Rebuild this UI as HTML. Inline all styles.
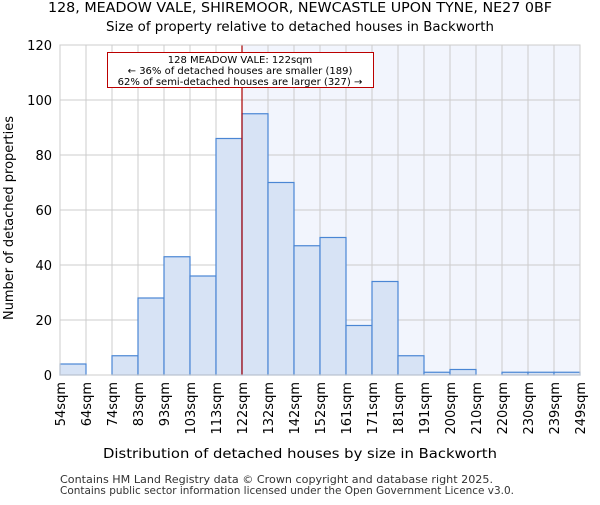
<!DOCTYPE html>
<html><head><meta charset="utf-8"><style>
body{margin:0;background:#fff;}
svg{font-family:"DejaVu Sans","Liberation Sans",sans-serif;}
</style></head><body>
<svg id="c" width="600" height="500" xmlns="http://www.w3.org/2000/svg">
<text x="300" y="12" text-anchor="middle" font-size="13" textLength="504" lengthAdjust="spacingAndGlyphs">128, MEADOW VALE, SHIREMOOR, NEWCASTLE UPON TYNE, NE27 0BF</text>
<text x="300" y="31" text-anchor="middle" font-size="13" textLength="388" lengthAdjust="spacingAndGlyphs">Size of property relative to detached houses in Backworth</text>
<g id="plot"></g>
<text x="300" y="458" text-anchor="middle" font-size="13" textLength="394" lengthAdjust="spacingAndGlyphs">Distribution of detached houses by size in Backworth</text>
<text transform="translate(13,218) rotate(-90)" text-anchor="middle" font-size="13" textLength="204" lengthAdjust="spacingAndGlyphs">Number of detached properties</text>
<text x="60" y="483" font-size="10.5" fill="#333" textLength="433" lengthAdjust="spacingAndGlyphs">Contains HM Land Registry data © Crown copyright and database right 2025.</text>
<text x="60" y="494" font-size="10.5" fill="#333" textLength="454" lengthAdjust="spacingAndGlyphs">Contains public sector information licensed under the Open Government Licence v3.0.</text>
</svg>
<script>
const categories=["54sqm","64sqm","74sqm","83sqm","93sqm","103sqm","113sqm","122sqm","132sqm","142sqm","152sqm","161sqm","171sqm","181sqm","191sqm","200sqm","210sqm","220sqm","230sqm","239sqm","249sqm"];
const values=[4,0,7,28,43,36,86,95,70,47,50,18,34,7,1,2,0,1,1,1];
const yTicks=[0,20,40,60,80,100,120];
const markerIndex=7;
const annotation=["128 MEADOW VALE: 122sqm","← 36% of detached houses are smaller (189)","62% of semi-detached houses are larger (327) →"];

const X0=60,X1=580,Y0=375,Y1=45,YMAX=120;
const nb=values.length;
const xs=i=>X0+(X1-X0)*i/nb;
const ys=v=>Y0-(Y0-Y1)*v/YMAX;
const NS="http://www.w3.org/2000/svg";
const g=document.getElementById('plot');
function mk(t,a){const e=document.createElementNS(NS,t);for(const k in a)e.setAttribute(k,a[k]);g.appendChild(e);return e;}
let e=mk('rect',{x:xs(markerIndex),y:Y1,width:X1-xs(markerIndex),height:Y0-Y1,fill:'#f2f5fd'});


for(let i=0;i<=nb;i++){e=mk('line',{x1:xs(i),x2:xs(i),y1:Y1,y2:Y0,stroke:'#ccc','stroke-width':1});

}
yTicks.forEach(t=>{e=mk('line',{x1:X0,x2:X1,y1:ys(t),y2:ys(t),stroke:'#ccc','stroke-width':1});


e=mk('text',{x:X0-8,y:ys(t)+5,'text-anchor':'end','font-size':13});e.textContent=t;

});
values.forEach((v,i)=>{e=mk('rect',{x:xs(i),y:ys(v),width:xs(i+1)-xs(i),height:Y0-ys(v),fill:'#d7e3f5',stroke:'#4a86d4','stroke-width':1.2});

});
categories.forEach((c,i)=>{e=mk('text',{transform:`translate(${xs(i)+5},382) rotate(-90)`,'text-anchor':'end','font-size':13});e.textContent=c;

});
e=mk('line',{x1:xs(markerIndex),x2:xs(markerIndex),y1:Y1,y2:Y0,stroke:'#a00','stroke-width':1.2});


e=mk('rect',{x:107.5,y:52.5,width:266,height:35,fill:'#fff',stroke:'#b00','stroke-width':1});


annotation.forEach((t,k)=>{e=mk('text',{x:240,y:63+k*11,'text-anchor':'middle','font-size':10});e.textContent=t;

});
e=mk('rect',{x:X0,y:Y1,width:X1-X0,height:Y0-Y1,fill:'none',stroke:'#ccc'});


</script>
</body></html>
